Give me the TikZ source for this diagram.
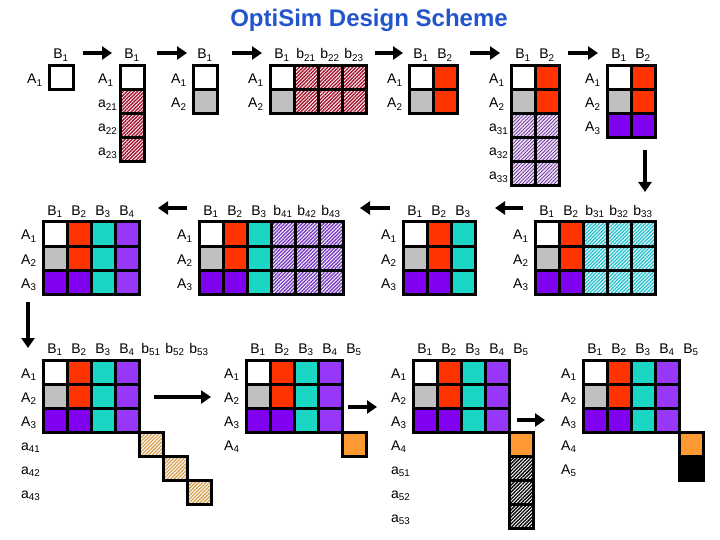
\documentclass[tikz,border=0pt]{standalone}
\usepackage{fontspec}
\setmainfont{Liberation Sans}
\usepackage{tikz}
\usetikzlibrary{arrows.meta}
\usetikzlibrary{patterns.meta}
\definecolor{lgrey}{RGB}{192,192,192}
\definecolor{tomato}{RGB}{255,51,0}
\definecolor{turq}{RGB}{26,214,196}
\definecolor{violet1}{RGB}{128,0,240}
\definecolor{violet2}{RGB}{150,55,250}
\definecolor{orng}{RGB}{255,153,51}
\definecolor{titleblue}{RGB}{34,85,204}
\definecolor{hred}{RGB}{165,20,45}
\definecolor{hlav}{RGB}{100,40,140}
\definecolor{lavbg}{RGB}{238,225,252}
\definecolor{hviol}{RGB}{120,60,195}
\definecolor{hturq}{RGB}{40,195,205}
\definecolor{htan}{RGB}{215,160,80}

\newcommand{\sub}[2]{#1\textsubscript{#2}}
\newcommand{\panel}[6]{%
  \foreach \row [count=\j] in {#4}{
    \foreach \c [count=\i] in \row
      \node[cell,\c] (#1-\j-\i) at ({#2+24*\i-12},{#3+24*\j-12}) {};
  }
  \foreach \l [count=\i] in {#5}
    \node[collab] (#1-c\i) at ({#2+24*\i-12},{#3-7}) {\l};
  \foreach \l [count=\j] in {#6}
    \node[rowlab] (#1-r\j) at ({#2-22},{#3+24*\j-6}) {\l};
}

\begin{document}
\begin{tikzpicture}[x=1pt,y=-1pt,
  cell/.style={draw=black,line width=3pt,minimum size=24pt,inner sep=0pt,outer sep=0pt},
  cw/.style={fill=white},cg/.style={fill=lgrey},cr/.style={fill=tomato},ct/.style={fill=turq},
  cp/.style={fill=violet1},cv/.style={fill=violet2},co/.style={fill=orng},ck/.style={fill=black},
  ce/.style={draw=none},
  hr/.style={pattern={Lines[angle=45,distance=2.5pt,line width=1.4pt]},pattern color=hred},
  hl/.style={preaction={fill=lavbg},pattern={Lines[angle=45,distance=2.5pt,line width=0.7pt]},pattern color=hlav},
  hv/.style={pattern={Lines[angle=45,distance=2.5pt,line width=1.4pt]},pattern color=hviol},
  ht/.style={pattern={Lines[angle=45,distance=2.5pt,line width=1.4pt]},pattern color=hturq},
  hy/.style={pattern={Lines[angle=45,distance=2.5pt,line width=1.3pt]},pattern color=htan},
  hk/.style={pattern={Lines[angle=45,distance=2.5pt,line width=1.3pt]},pattern color=black},
  collab/.style={anchor=base,inner sep=0pt,font=\fontsize{14}{16}\selectfont},
  rowlab/.style={anchor=base west,inner sep=0pt,font=\fontsize{14}{16}\selectfont},
  arr/.style={line width=4.5pt,-{Triangle[length=10pt,width=13pt]}}]
  \useasboundingbox (0,0) rectangle (720,540);
  \node[font=\bfseries\fontsize{24}{27}\selectfont,text=titleblue] (title) at (369,20) {OptiSim Design Scheme};

  \panel{p1}{49}{66}{{cw}}{\sub{B}{1}}{\sub{A}{1}}
  \panel{p2}{120}{66}{{cw},{hr},{hr},{hr}}{\sub{B}{1}}{\sub{A}{1},\sub{a}{21},\sub{a}{22},\sub{a}{23}}
  \panel{p3}{193}{66}{{cw},{cg}}{\sub{B}{1}}{\sub{A}{1},\sub{A}{2}}
  \panel{p4}{270}{66}{{cw,hr,hr,hr},{cg,hr,hr,hr}}{\sub{B}{1},\sub{b}{21},\sub{b}{22},\sub{b}{23}}{\sub{A}{1},\sub{A}{2}}
  \panel{p5}{409}{66}{{cw,cr},{cg,cr}}{\sub{B}{1},\sub{B}{2}}{\sub{A}{1},\sub{A}{2}}
  \panel{p6}{511}{66}{{cw,cr},{cg,cr},{hl,hl},{hl,hl},{hl,hl}}{\sub{B}{1},\sub{B}{2}}{\sub{A}{1},\sub{A}{2},\sub{a}{31},\sub{a}{32},\sub{a}{33}}
  \panel{p7}{607}{66}{{cw,cr},{cg,cr},{cp,cp}}{\sub{B}{1},\sub{B}{2}}{\sub{A}{1},\sub{A}{2},\sub{A}{3}}

  \panel{p8}{43}{222}{{cw,cr,ct,cv},{cg,cr,ct,cv},{cp,cp,ct,cv}}{\sub{B}{1},\sub{B}{2},\sub{B}{3},\sub{B}{4}}{\sub{A}{1},\sub{A}{2},\sub{A}{3}}
  \panel{p9}{199}{222}{{cw,cr,ct,hv,hv,hv},{cg,cr,ct,hv,hv,hv},{cp,cp,ct,hv,hv,hv}}{\sub{B}{1},\sub{B}{2},\sub{B}{3},\sub{b}{41},\sub{b}{42},\sub{b}{43}}{\sub{A}{1},\sub{A}{2},\sub{A}{3}}
  \panel{p10}{403}{222}{{cw,cr,ct},{cg,cr,ct},{cp,cp,ct}}{\sub{B}{1},\sub{B}{2},\sub{B}{3}}{\sub{A}{1},\sub{A}{2},\sub{A}{3}}
  \panel{p11}{535}{222}{{cw,cr,ht,ht,ht},{cg,cr,ht,ht,ht},{cp,cp,ht,ht,ht}}{\sub{B}{1},\sub{B}{2},\sub{b}{31},\sub{b}{32},\sub{b}{33}}{\sub{A}{1},\sub{A}{2},\sub{A}{3}}

  \panel{p12}{43}{360}{{cw,cr,ct,cv},{cg,cr,ct,cv},{cp,cp,ct,cv},{ce,ce,ce,ce,hy},{ce,ce,ce,ce,ce,hy},{ce,ce,ce,ce,ce,ce,hy}}{\sub{B}{1},\sub{B}{2},\sub{B}{3},\sub{B}{4},\sub{b}{51},\sub{b}{52},\sub{b}{53}}{\sub{A}{1},\sub{A}{2},\sub{A}{3},\sub{a}{41},\sub{a}{42},\sub{a}{43}}
  \panel{p13}{246}{360}{{cw,cr,ct,cv},{cg,cr,ct,cv},{cp,cp,ct,cv},{ce,ce,ce,ce,co}}{\sub{B}{1},\sub{B}{2},\sub{B}{3},\sub{B}{4},\sub{B}{5}}{\sub{A}{1},\sub{A}{2},\sub{A}{3},\sub{A}{4}}
  \panel{p14}{413}{360}{{cw,cr,ct,cv},{cg,cr,ct,cv},{cp,cp,ct,cv},{ce,ce,ce,ce,co},{ce,ce,ce,ce,hk},{ce,ce,ce,ce,hk},{ce,ce,ce,ce,hk}}{\sub{B}{1},\sub{B}{2},\sub{B}{3},\sub{B}{4},\sub{B}{5}}{\sub{A}{1},\sub{A}{2},\sub{A}{3},\sub{A}{4},\sub{a}{51},\sub{a}{52},\sub{a}{53}}
  \panel{p15}{583}{360}{{cw,cr,ct,cv},{cg,cr,ct,cv},{cp,cp,ct,cv},{ce,ce,ce,ce,co},{ce,ce,ce,ce,ck}}{\sub{B}{1},\sub{B}{2},\sub{B}{3},\sub{B}{4},\sub{B}{5}}{\sub{A}{1},\sub{A}{2},\sub{A}{3},\sub{A}{4},\sub{A}{5}}

  \foreach \sx/\sy/\ex/\ey [count=\n] in {83/53/112/53,157/53/187/53,232/53/262/53,375/53/403/53,470/53/500/53,568/53/598/53,645/150/645/192,523/208/495/208,390/208/360/208,187/208/158/208,28/302/28/348,154/397/211/397,348/407/377/407,517/420/545/420}{
    \coordinate (as\n) at (\sx,\sy);
    \coordinate (ae\n) at (\ex,\ey);
    \draw[arr] (as\n) -- (ae\n);
  }
\end{tikzpicture}
\end{document}
